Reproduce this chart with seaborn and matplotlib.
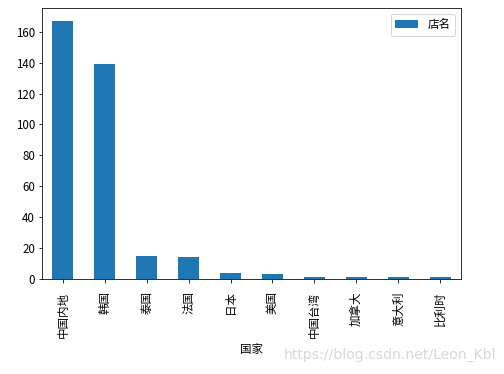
import numpy as np
import pandas as pd
import seaborn as sns
import matplotlib
matplotlib.use("Agg")
import matplotlib.pyplot as plt

countries = ["中国内地", "韩国", "泰国", "法国", "日本", "美国", "中国台湾", "加拿大", "意大利", "比利时"]
shop_counts = [167, 139, 15, 14, 4, 3, 1, 1, 1, 1]

plt.rcParams["font.family"] = ["Noto Sans CJK SC", "DejaVu Sans"]
plt.rcParams["font.size"] = 11.5
plt.rcParams["axes.unicode_minus"] = False

df = pd.DataFrame({"国家": countries, "店名": shop_counts})

fig, ax = plt.subplots(figsize=(7, 374 / 72), dpi=72)
fig.subplots_adjust(left=42 / 504, right=461 / 504, top=1 - 8 / 374, bottom=1 - 279 / 374)

sns.barplot(data=df, x="国家", y="店名", color="#1f77b4", saturation=1,
            width=0.5, label="店名", ax=ax)
ax.set_xlim(-0.5, len(countries) - 0.5)
ax.set_yticks(np.arange(0, 161, 20))
ax.set_ylabel("")
ax.set_xlabel("国家", labelpad=6)
ax.tick_params(axis="x", rotation=90, pad=9)
ax.legend(loc="upper right")

fig.text(0.985, 0.051, "https://blog.csdn.net/Leon_Kbl", ha="right", va="center",
         color="#d8d8d8", fontsize=14, family=["DejaVu Sans"])

fig.savefig("out.png", dpi=72)
